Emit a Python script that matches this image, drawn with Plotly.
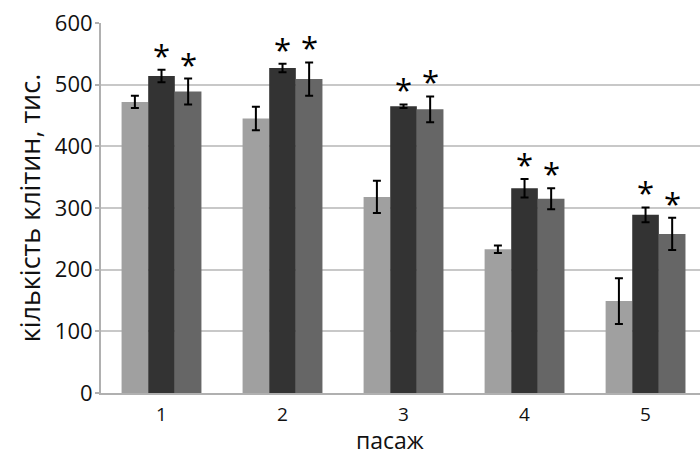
import plotly.graph_objects as go

categories = ["1", "2", "3", "4", "5"]
series_names = ["контроль", "група 1", "група 2"]
light_vals = [472, 445, 318, 233, 149]
light_err = [10, 19, 26, 6, 37]
dark_vals = [514, 527, 465, 332, 289]
dark_err = [10, 7, 3, 15, 12]
mid_vals = [489, 509, 460, 315, 258]
mid_err = [21, 27, 21, 17, 26]
dark_star = [True, True, True, True, True]
mid_star = [True, True, True, True, True]
y_ticks = [0, 100, 200, 300, 400, 500, 600]
x_title = "пасаж"
y_title = "кількість клітин, тис."

colors = ["#a0a0a0", "#333333", "#666666"]
FONT = "Open Sans"

fig = go.Figure()
for name, vals, errs, col in zip(series_names, [light_vals, dark_vals, mid_vals],
                                  [light_err, dark_err, mid_err], colors):
    fig.add_trace(go.Bar(
        x=categories, y=vals, name=name, marker=dict(color=col, line=dict(width=0)),
        error_y=dict(type="data", array=errs, visible=True, color="black", thickness=2, width=4),
    ))

bar_px = 27
for idx, (vals, errs, stars) in enumerate([(dark_vals, dark_err, dark_star), (mid_vals, mid_err, mid_star)], start=1):
    for ci, (v, e, s) in enumerate(zip(vals, errs, stars)):
        if s:
            fig.add_annotation(x=ci, y=v + e, xref="x", yref="y", text="*", showarrow=False,
                               yanchor="bottom", xshift=(idx - 1) * bar_px, yshift=-8,
                               font=dict(family=FONT, size=31, color="black"))

fig.add_annotation(x=0.482, y=0, xref="paper", yref="paper", text=x_title, showarrow=False,
                   xanchor="center", yanchor="middle", yshift=-47,
                   font=dict(family=FONT, size=23, color="#111"))

fig.update_layout(
    width=700, height=456, barmode="group", bargap=0.34, bargroupgap=0,
    margin=dict(l=101, r=0, t=23, b=63),
    plot_bgcolor="white", paper_bgcolor="white", showlegend=False,
    font=dict(family=FONT, color="#111111"),
)
fig.update_xaxes(type="category", range=[-0.5, 4.45], showline=True, linecolor="#b0b0b0", linewidth=2,
                 ticks="", ticklabelstandoff=3, automargin=False,
                 tickfont=dict(family=FONT, size=19, color="#111"))
fig.update_yaxes(range=[0, 600], tickvals=y_ticks, showgrid=True, gridcolor="#c8c8c8", gridwidth=2,
                 showline=True, linecolor="#b0b0b0", linewidth=2, ticks="outside", ticklen=4,
                 tickcolor="#b0b0b0", tickwidth=2, zeroline=False, ticklabelstandoff=-2, automargin=False,
                 tickfont=dict(family=FONT, size=22, color="#111"),
                 title=dict(text=y_title, font=dict(family=FONT, size=27, color="#111"), standoff=6))

fig.write_html("out.html")
